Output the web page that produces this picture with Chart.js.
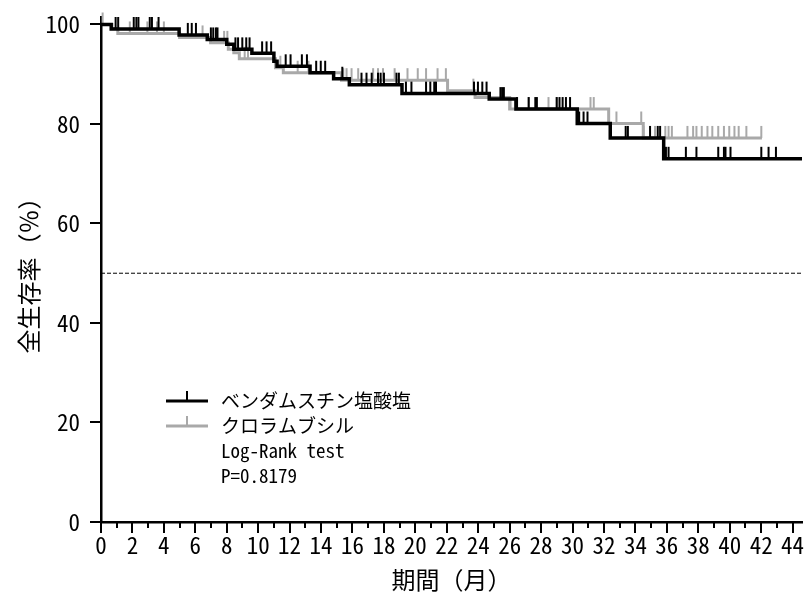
<!DOCTYPE html>
<html><head><meta charset="utf-8">
<script src="https://cdn.jsdelivr.net/npm/chart.js@4"></script>
<style>html,body{margin:0;padding:0;background:#fff;overflow:hidden;}</style>
</head><body>
<canvas id="c" width="807" height="594" style="width:807px;height:594px;display:block"></canvas>
<script>
// ---- data ----
const seriesNames = ['ベンダムスチン塩酸塩', 'クロラムブシル'];
const blackTimes = [0, 0.65, 4.97, 6.76, 8.0, 8.45, 9.6, 11.0, 11.2, 13.3, 14.8, 15.8, 19.15, 24.7, 26.4, 30.3, 32.4, 35.8, 44.6];
const blackSurv  = [100, 99.1, 97.9, 97.0, 96.0, 95.0, 94.2, 92.6, 91.6, 90.3, 89.1, 87.9, 86.1, 85.0, 83.0, 80.1, 77.2, 73.0, 73.0];
const blackCensor = [0.93, 1.09, 2.08, 2.25, 2.38, 3.10, 3.24, 3.66, 5.52, 5.77, 6.04, 6.99, 7.14, 7.31, 7.41,
  8.55, 8.72, 8.99, 9.24, 9.45, 10.25, 10.53, 10.82, 11.75, 12.06, 12.78, 13.10, 13.69, 13.98, 14.26, 15.35,
  16.57, 16.89, 17.22, 17.62, 17.79, 18.0, 18.8, 18.95, 19.4, 19.75, 20.68, 20.95, 21.2, 21.31,
  23.73, 23.98, 24.26, 24.53, 25.41, 25.52, 25.63, 26.47, 27.21, 27.63, 27.73,
  28.99, 29.17, 29.37, 29.58, 29.84, 30.42, 30.7, 30.95, 33.38, 33.52, 34.93, 35.42, 35.57,
  35.94, 36.11, 37.21, 37.88, 39.27, 39.63, 39.73, 40.05, 42.01, 42.47, 42.94];
const greyTimes = [0, 0.7, 1.07, 5.0, 6.97, 8.1, 8.45, 8.8, 11.1, 11.6, 15.3, 22.05, 23.8, 26.0, 32.3, 34.5, 42.05];
const greySurv  = [100, 99.2, 98.2, 97.4, 96.3, 95.0, 94.3, 93.1, 91.3, 90.3, 88.8, 86.7, 85.3, 83.0, 80.1, 77.2, 77.2];
const greyCensor = [0.1, 1.83, 2.95, 3.56, 4.0, 6.46, 7.83, 8.04, 9.14, 9.35, 11.41, 12.51, 13.2, 15.41, 15.62, 15.94,
  16.36, 17.31, 17.62, 17.94, 18.68, 19.5, 20.15, 20.68, 21.41, 21.94, 23.69, 26.05, 27.21, 28.47, 29.0,
  31.14, 31.35, 32.79, 34.37, 34.51, 35.25, 35.9, 36.11, 36.32, 37.31, 37.67, 37.88, 38.22, 38.58,
  38.89, 39.27, 39.63, 39.97, 40.3, 40.57, 41.06, 42.01];
const medianLevel = 50;
const yTicks = [0, 20, 40, 60, 80, 100];
const xMajor = [0,2,4,6,8,10,12,14,16,18,20,22,24,26,28,30,32,34,36,38,40,42,44];
const xMinor = [1,3,5,7,9,11,13,15,17,19,21,23,25,27,29,31,33,35,37,39,41,43];
const xTitle = '期間（月）';
const yTitle = '全生存率（％）';
const statLines = ['Log-Rank test', 'P=0.8179'];
const xMax = 44.6, yMax = 101.5;

// ---- helpers ----
const FONT = "'Noto Sans Mono CJK JP', 'Noto Sans CJK JP', sans-serif";
const BLACK = '#000000', GREY = '#a9a9a9';
function stepPoints(ts, ss) { return ts.map((t, i) => ({x: t, y: ss[i]})); }
function survAt(ts, ss, t) { let v = ss[0]; for (let i = 0; i < ts.length; i++) { if (ts[i] <= t) v = ss[i]; } return v; }
function censorPoints(cs, ts, ss) { return cs.map(t => ({x: t, y: survAt(ts, ss, t)})); }
function tickImg(color) {
  const c = document.createElement('canvas'); c.width = 4; c.height = 26;
  const g = c.getContext('2d'); g.fillStyle = color; g.fillRect(1, 1, 2, 12); return c;
}

const axisTicks = {
  id: 'axisTicks',
  afterDraw(chart) {
    const {ctx, scales: {x, y}} = chart;
    ctx.save(); ctx.strokeStyle = '#000'; ctx.lineWidth = 2;
    const bottom = y.getPixelForValue(0), left = x.getPixelForValue(0);
    ctx.beginPath();
    xMajor.forEach(v => { const px = Math.round(x.getPixelForValue(v)); ctx.moveTo(px, bottom); ctx.lineTo(px, bottom + 11); });
    xMinor.forEach(v => { const px = Math.round(x.getPixelForValue(v)); ctx.moveTo(px, bottom); ctx.lineTo(px, bottom + 6); });
    yTicks.forEach(v => { const py = Math.round(y.getPixelForValue(v)); ctx.moveTo(left, py); ctx.lineTo(left - 11, py); });
    ctx.stroke();
    ctx.restore();
  }
};

const kmLegend = {
  id: 'kmLegend',
  afterDraw(chart) {
    const ctx = chart.ctx;
    ctx.save();
    const x0 = 166, x1 = 208, tx = 221;
    const items = [chart.data.datasets[0], chart.data.datasets[2]];
    items.forEach((ds, i) => {
      const yy = 401 + i * 25;
      ctx.strokeStyle = ds.borderColor; ctx.lineWidth = 3;
      ctx.beginPath(); ctx.moveTo(x0, yy); ctx.lineTo(x1, yy); ctx.stroke();
      ctx.lineWidth = 2; ctx.beginPath(); ctx.moveTo(187, yy); ctx.lineTo(187, yy - 10); ctx.stroke();
      ctx.fillStyle = '#000'; ctx.font = '19px ' + FONT; ctx.textBaseline = 'middle'; ctx.textAlign = 'left';
      ctx.fillText(ds.label, tx, yy);
    });
    ctx.font = '19px ' + FONT;
    statLines.forEach((s, i) => ctx.fillText(s, tx, 451 + i * 25));
    ctx.restore();
  }
};

new Chart(document.getElementById('c'), {
  type: 'line',
  data: {
    datasets: [
      {label: seriesNames[0], data: stepPoints(blackTimes, blackSurv), stepped: 'before', borderColor: BLACK, borderWidth: 3.5, pointRadius: 0, fill: false, order: 1, clip: false},
      {label: seriesNames[0] + ' censored', data: censorPoints(blackCensor, blackTimes, blackSurv), showLine: false, pointStyle: tickImg(BLACK), pointRadius: 3, order: 0, clip: false},
      {label: seriesNames[1], data: stepPoints(greyTimes, greySurv), stepped: 'before', borderColor: GREY, borderWidth: 3, pointRadius: 0, fill: false, order: 3, clip: false},
      {label: seriesNames[1] + ' censored', data: censorPoints(greyCensor, greyTimes, greySurv), showLine: false, pointStyle: tickImg(GREY), pointRadius: 3, order: 2, clip: false},
      {label: 'median', data: [{x: 0, y: medianLevel}, {x: xMax, y: medianLevel}], borderColor: '#000', borderWidth: 1, borderDash: [4, 2], pointRadius: 0, order: 4}
    ]
  },
  options: {
    responsive: false, animation: false, events: [], devicePixelRatio: 1,
    layout: {padding: {top: 17, right: 0, left: 0, bottom: 0}},
    plugins: {legend: {display: false}, tooltip: {enabled: false}},
    scales: {
      x: {
        type: 'linear', min: 0, max: xMax,
        afterBuildTicks: s => { s.ticks = xMajor.map(v => ({value: v})); },
        afterFit: s => { s.height = 72; s.paddingLeft = 0; s.paddingRight = 0; },
        grid: {display: true, drawOnChartArea: false, drawTicks: false, color: 'rgba(0,0,0,0)'},
        border: {display: true, color: '#000', width: 2.5},
        ticks: {autoSkip: false, maxRotation: 0, padding: 9, color: '#000', font: {family: FONT, size: 23}},
        title: {display: true, text: xTitle, color: '#000', font: {family: FONT, size: 24}, padding: {top: 0, bottom: 0}}
      },
      y: {
        type: 'linear', min: 0, max: yMax,
        afterBuildTicks: s => { s.ticks = yTicks.map(v => ({value: v})); },
        afterFit: s => { s.width = 101; s.paddingTop = 0; s.paddingBottom = 0; },
        grid: {display: true, drawOnChartArea: false, drawTicks: false, color: 'rgba(0,0,0,0)'},
        border: {display: true, color: '#000', width: 2.5},
        ticks: {padding: 21, color: '#000', font: {family: FONT, size: 23}},
        title: {display: true, text: yTitle, color: '#000', font: {family: FONT, size: 24}, padding: {top: 14, bottom: 0}}
      }
    }
  },
  plugins: [axisTicks, kmLegend]
});
</script>
</body></html>
